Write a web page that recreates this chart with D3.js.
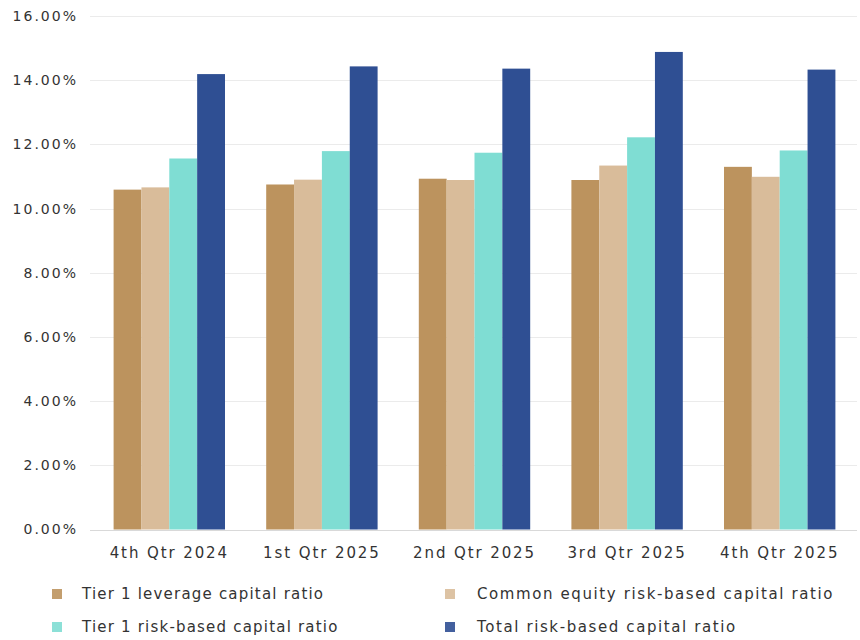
<!DOCTYPE html>
<html>
<head>
<meta charset="utf-8">
<script src="https://cdn.jsdelivr.net/npm/d3@7"></script>
<style>
  html, body { margin: 0; padding: 0; background: #ffffff; }
  svg { display: block; }
  text { font-family: "DejaVu Sans", sans-serif; fill: #333333; }
</style>
</head>
<body>
<svg id="chart" width="860" height="640"></svg>
<script>
// Quarterly capital ratios (%)
const quarters = ["4th Qtr 2024", "1st Qtr 2025", "2nd Qtr 2025", "3rd Qtr 2025", "4th Qtr 2025"];
const seriesNames = [
  "Tier 1 leverage capital ratio",
  "Common equity risk-based capital ratio",
  "Tier 1 risk-based capital ratio",
  "Total risk-based capital ratio"
];
const tier1Leverage   = [10.59, 10.75, 10.93, 10.89, 11.30];
const commonEquity    = [10.66, 10.90, 10.89, 11.34, 10.99];
const tier1RiskBased  = [11.56, 11.79, 11.74, 12.22, 11.81];
const totalRiskBased  = [14.19, 14.43, 14.36, 14.88, 14.33];
const yTicks = [0, 2, 4, 6, 8, 10, 12, 14, 16];

const seriesValues = [tier1Leverage, commonEquity, tier1RiskBased, totalRiskBased];
const colors = ["#BC935E", "#D9BC9A", "#7FDDD3", "#2F4F93"];

const svg = d3.select("#chart");
const margin = { left: 93, right: 4, top: 16, bottom: 110 };
const W = 860, H = 640;

const x0 = d3.scaleBand()
  .domain(quarters)
  .range([margin.left, W - margin.right])
  .paddingInner(0.27)
  .paddingOuter(0.135);

const x1 = d3.scaleBand()
  .domain(seriesNames)
  .range([0, x0.bandwidth()])
  .padding(0);

const y = d3.scaleLinear()
  .domain([0, 16])
  .range([H - margin.bottom - 0.5, margin.top]);

// gridlines
svg.append("g")
  .selectAll("line")
  .data(yTicks)
  .join("line")
  .attr("x1", margin.left - 3)
  .attr("x2", W - 3)
  .attr("y1", d => Math.round(y(d)) + 0.5)
  .attr("y2", d => Math.round(y(d)) + 0.5)
  .attr("stroke", d => d === 0 ? "#d9d9d9" : "#ebebeb")
  .attr("stroke-width", 1.2);

// y-axis labels
const yAxis = d3.axisLeft(y)
  .tickValues(yTicks)
  .tickFormat(d => d3.format(".2f")(d) + "%")
  .tickSize(0)
  .tickPadding(0);

const gy = svg.append("g")
  .attr("transform", `translate(${78},0)`)
  .call(yAxis);
gy.select(".domain").remove();
gy.selectAll("text")
  .style("font-size", "14px")
  .style("letter-spacing", "2px")
  .style("font-family", "'DejaVu Sans', sans-serif")
  .attr("fill", "#333333");

// bars
const groups = svg.append("g")
  .selectAll("g")
  .data(quarters)
  .join("g")
  .attr("transform", d => `translate(${x0(d)},0)`);

groups.selectAll("rect")
  .data((q, i) => seriesNames.map((s, k) => ({ s, k, v: seriesValues[k][i] })))
  .join("rect")
  .attr("x", d => x1(d.s))
  .attr("width", x1.bandwidth())
  .attr("y", d => y(d.v))
  .attr("height", d => y(0) - y(d.v))
  .attr("fill", d => colors[d.k]);

// x-axis labels
const xAxis = d3.axisBottom(x0).tickSize(0).tickPadding(0);
const gx = svg.append("g")
  .attr("transform", `translate(0,${y(0) + 18})`)
  .call(xAxis);
gx.select(".domain").remove();
gx.selectAll("text")
  .style("font-size", "15px")
  .style("letter-spacing", "1.9px")
  .style("font-family", "'DejaVu Sans', sans-serif")
  .attr("fill", "#333333");

// legend
const legendPos = [
  { x: 52, y: 594 },
  { x: 445, y: 594 },
  { x: 52, y: 627 },
  { x: 445, y: 627 }
];
const legend = svg.append("g")
  .selectAll("g")
  .data(seriesNames)
  .join("g")
  .attr("transform", (d, i) => `translate(${legendPos[i].x},${legendPos[i].y})`);

legend.append("rect")
  .attr("x", 0)
  .attr("y", -5)
  .attr("width", 10)
  .attr("height", 10)
  .attr("fill", (d, i) => colors[i])
  .attr("opacity", 0.9);

legend.append("text")
  .attr("x", (d, i) => i % 2 === 0 ? 30 : 32)
  .attr("y", 0)
  .attr("dy", "0.35em")
  .style("font-size", "15px")
  .style("letter-spacing", (d, i) => i % 2 === 0 ? "1.2px" : "1.6px")
  .text(d => d);
</script>
</body>
</html>
